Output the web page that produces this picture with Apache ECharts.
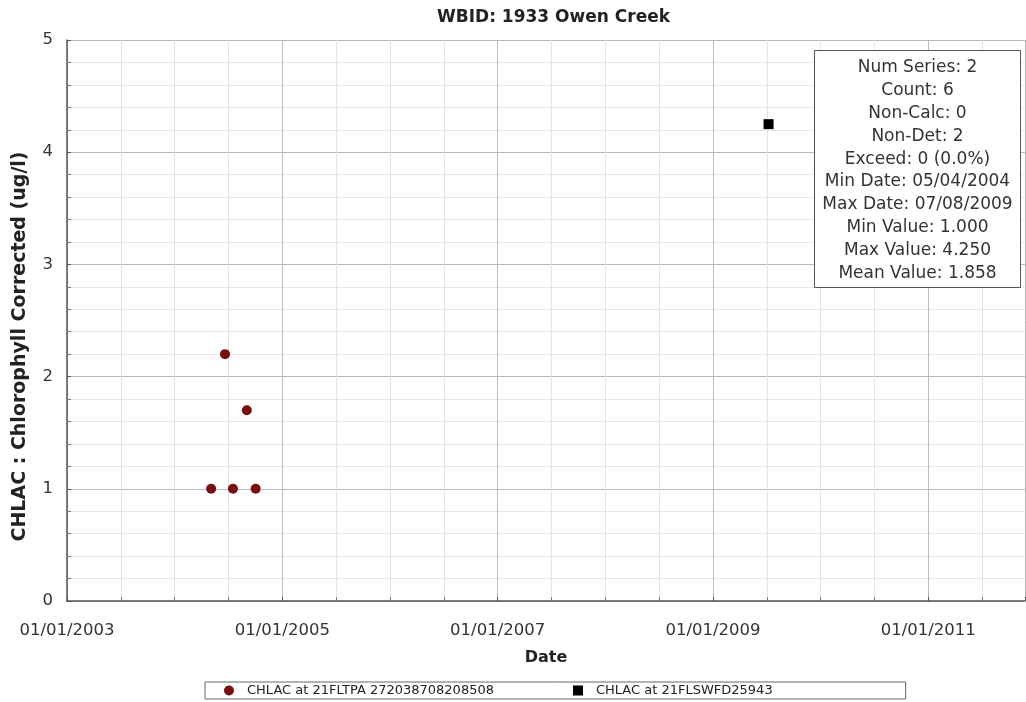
<!DOCTYPE html>
<html>
<head>
<meta charset="utf-8">
<script src="https://cdn.jsdelivr.net/npm/echarts@6/dist/echarts.min.js"></script>
<style>
  html, body { margin: 0; padding: 0; background: #fff; }
  #main { width: 1026px; height: 702px; }
</style>
</head>
<body>
<div id="main"></div>
<script>
// series 1: CHLAC at 21FLTPA 272038708208508
const tpaDates = ["2004-05-04", "2004-06-20", "2004-07-17", "2004-09-02", "2004-10-02"]
const tpaValues = [1.0, 2.2, 1.0, 1.7, 1.0]
// series 2: CHLAC at 21FLSWFD25943
const swfdDates = ["2009-07-08"]
const swfdValues = [4.25]

const statsLines = [
  "Num Series: 2",
  "Count: 6",
  "Non-Calc: 0",
  "Non-Det: 2",
  "Exceed: 0 (0.0%)",
  "Min Date: 05/04/2004",
  "Max Date: 07/08/2009",
  "Min Value: 1.000",
  "Max Value: 4.250",
  "Mean Value: 1.858"
]

const DAY = 86400000
const xMin = Date.UTC(2003, 0, 1)
const xMax = Date.UTC(2011, 10, 25)
// two years, averaged so the labels land on 01/01
const xStep = 730.5 * DAY

const toTs = s => {
  const p = s.split("-").map(Number)
  return Date.UTC(p[0], p[1] - 1, p[2])
}
const pad = n => (n < 10 ? "0" : "") + n
const fmtDate = v => {
  const d = new Date(Math.round(v / DAY) * DAY)
  return pad(d.getUTCMonth() + 1) + "/" + pad(d.getUTCDate()) + "/" + d.getUTCFullYear()
}

const font = "DejaVu Sans"
const chart = echarts.init(document.getElementById("main"))

chart.setOption({
  animation: false,
  textStyle: { fontFamily: font },
  title: {
    text: "WBID: 1933 Owen Creek",
    left: 432,
    top: 4,
    textStyle: { fontFamily: font, fontSize: 17, fontWeight: "bold", color: "#222" }
  },
  grid: { left: 67, right: 1, top: 40, bottom: 101 },
  legend: {
    left: 205,
    top: 682,
    itemGap: 79,
    itemWidth: 10,
    itemHeight: 10,
    padding: [2, 133, 2, 19],
    borderColor: "#666",
    borderWidth: 1,
    textStyle: { fontFamily: font, fontSize: 13, color: "#222", padding: [0, 0, 0, 8] },
    data: [
      { name: "CHLAC at 21FLTPA 272038708208508", icon: "circle" },
      { name: "CHLAC at 21FLSWFD25943", icon: "rect" }
    ]
  },
  xAxis: {
    type: "value",
    min: xMin,
    max: xMax,
    interval: xStep,
    name: "Date",
    nameLocation: "middle",
    nameGap: 49,
    nameTextStyle: { fontFamily: font, fontSize: 16, fontWeight: "bold", color: "#222" },
    axisLine: { lineStyle: { color: "#555", width: 1.5 } },
    axisTick: { show: true, length: 4, inside: true, lineStyle: { color: "#555" } },
    minorTick: { show: true, splitNumber: 4, length: 4, lineStyle: { color: "#777" } },
    axisLabel: { formatter: fmtDate, fontSize: 16.5, color: "#333", margin: 21, showMaxLabel: false },
    splitLine: { show: true, lineStyle: { color: "#bbb" } },
    minorSplitLine: { show: true, lineStyle: { color: "#e4e4e4" } }
  },
  yAxis: {
    type: "value",
    min: 0,
    max: 5,
    interval: 1,
    name: "CHLAC : Chlorophyll Corrected (ug/l)",
    nameLocation: "middle",
    nameGap: 37,
    nameTextStyle: {
      fontFamily: font, fontSize: 19, fontWeight: "bold", color: "#222",
      padding: [0, 52, 0, 0]
    },
    axisLine: { show: true, lineStyle: { color: "#555", width: 1.5 } },
    axisTick: { show: true, length: 4, inside: true, lineStyle: { color: "#555" } },
    minorTick: { show: true, splitNumber: 5, length: 4, lineStyle: { color: "#777" } },
    axisLabel: { fontSize: 16.5, color: "#333", margin: 14 },
    splitLine: { show: true, lineStyle: { color: "#bbb" } },
    minorSplitLine: { show: true, lineStyle: { color: "#e8e8e8" } }
  },
  series: [
    {
      name: "CHLAC at 21FLTPA 272038708208508",
      type: "scatter",
      symbol: "circle",
      symbolSize: 10,
      itemStyle: { color: "#7a0f0f", opacity: 1 },
      data: tpaDates.map((d, i) => [toTs(d), tpaValues[i]])
    },
    {
      name: "CHLAC at 21FLSWFD25943",
      type: "scatter",
      symbol: "rect",
      symbolSize: 10,
      itemStyle: { color: "#000", opacity: 1 },
      data: swfdDates.map((d, i) => [toTs(d), swfdValues[i]])
    }
  ],
  graphic: [
    {
      type: "group",
      left: 814,
      top: 50,
      z: 100,
      children: [
        {
          type: "rect",
          z: 100,
          shape: { x: 0, y: 0, width: 206, height: 237 },
          style: { fill: "#fff", stroke: "#555", lineWidth: 1 }
        },
        {
          type: "text",
          z: 101,
          x: 103,
          y: 6,
          style: {
            text: statsLines.join("\n"),
            textAlign: "center",
            fontFamily: font,
            fontSize: 17,
            lineHeight: 22.8,
            fill: "#333"
          }
        }
      ]
    }
  ]
})
</script>
</body>
</html>
